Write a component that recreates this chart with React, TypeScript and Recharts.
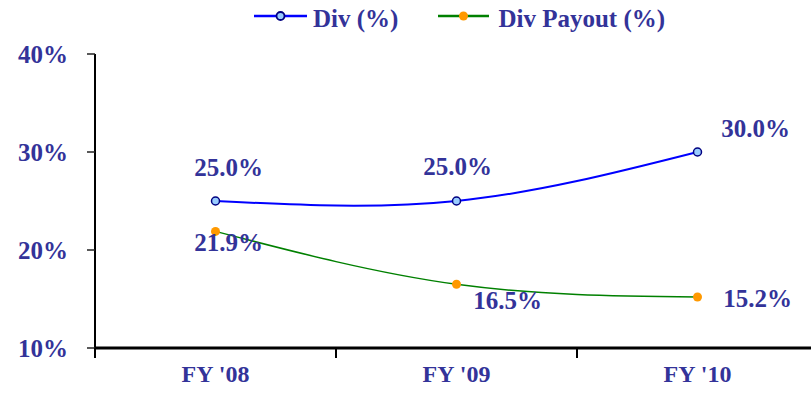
import { LineChart, Line, XAxis, YAxis, Legend, LabelList } from 'recharts';

const categories = ["FY '08", "FY '09", "FY '10"];
const divValues = [25.0, 25.0, 30.0];
const payoutValues = [21.9, 16.5, 15.2];
const yTicks = [10, 20, 30, 40];
// band edges get a tick mark, band centres get the category name
const xTicks = [0, 0.5, 1, 1.5, 2, 2.5, 3];

const data = categories.map((name, i) => ({ name, pos: i + 0.5, div: divValues[i], payout: payoutValues[i] }));

const FONT = "'Liberation Serif', 'Times New Roman', serif";
const TEXT = '#333399';

// label nudges relative to each point (dx, dy)
const divLabelShift = [
  [13, -34],
  [1, -35],
  [58, -24],
];
const payoutLabelShift = [
  [13, 11],
  [51, 16],
  [60, 1],
];

function makeLabel(shift: number[][]) {
  return (props: any) => {
    const { x, y, value, index } = props;
    const [dx, dy] = shift[index] || [0, 0];
    return (
      <text
        x={x + dx}
        y={y + dy}
        textAnchor="middle"
        dominantBaseline="central"
        fill={TEXT}
        fontFamily={FONT}
        fontWeight="bold"
        fontSize={25}
      >
        {`${Number(value).toFixed(1)}%`}
      </text>
    );
  };
}

function CategoryTick(props: any) {
  const { x, y, payload } = props;
  const v = payload.value;
  if (Number.isInteger(v)) {
    return <line x1={x} y1={y} x2={x} y2={y + 10} stroke="#000" strokeWidth={2} />;
  }
  return (
    <text
      x={x}
      y={y + 17}
      dy="0.71em"
      textAnchor="middle"
      fill={TEXT}
      fontFamily={FONT}
      fontWeight="bold"
      fontSize={24}
    >
      {categories[Math.floor(v)]}
    </text>
  );
}

function LegendIcon({ color, fill, stroke, width }: { color: string; fill: string; stroke?: string; width: number }) {
  return (
    <svg width={width} height={12} style={{ display: 'block', marginTop: 10 }}>
      <line x1={0} y1={6} x2={width} y2={6} stroke={color} strokeWidth={2.5} />
      <circle cx={width / 2} cy={6} r={stroke ? 4 : 4.5} fill={fill} stroke={stroke || 'none'} strokeWidth={1.8} />
    </svg>
  );
}

function LegendText({ label }: { label: string }) {
  return (
    <span
      style={{
        display: 'block',
        marginTop: 4,
        whiteSpace: 'nowrap',
        fontFamily: FONT,
        fontWeight: 'bold',
        fontSize: 25,
        lineHeight: '30px',
        color: TEXT,
      }}
    >
      {label}
    </span>
  );
}

function renderLegend() {
  return (
    <div style={{ display: 'flex', alignItems: 'flex-start', paddingLeft: 254 }}>
      <LegendIcon color="#0000FF" fill="#99CCFF" stroke="#000080" width={53} />
      <div style={{ width: 6 }} />
      <LegendText label="Div (%)" />
      <div style={{ width: 40 }} />
      <LegendIcon color="#008000" fill="#FF9900" width={51} />
      <div style={{ width: 9 }} />
      <LegendText label="Div Payout (%)" />
    </div>
  );
}

export default function App() {
  return (
    <div style={{ position: 'absolute', left: 0, top: 0, width: 811, height: 417, overflow: 'hidden', background: '#fff' }}>
      <LineChart width={830} height={417} data={data} margin={{ top: 54, right: 12, bottom: 0, left: 0 }}>
        <Legend
          verticalAlign="middle"
          align="center"
          content={renderLegend}
          wrapperStyle={{ top: 0, left: 0, width: 830 }}
        />
        <XAxis
          dataKey="pos"
          type="number"
          domain={[0, 3]}
          allowDataOverflow
          ticks={xTicks}
          interval={0}
          tickLine={false}
          tickSize={0}
          tickMargin={0}
          height={69}
          axisLine={{ stroke: '#000', strokeWidth: 3 }}
          tick={<CategoryTick />}
        />
        <YAxis
          domain={[10, 40]}
          ticks={yTicks}
          tickFormatter={(v) => `${v}%`}
          width={95}
          tickSize={8}
          tickMargin={19}
          axisLine={{ stroke: '#000', strokeWidth: 2 }}
          tickLine={{ stroke: '#222', strokeWidth: 1.5 }}
          tick={{ fill: TEXT, fontFamily: FONT, fontWeight: 'bold', fontSize: 25 }}
        />
        <Line
          type="natural"
          dataKey="div"
          stroke="#0000FF"
          strokeWidth={2}
          dot={{ r: 4, fill: '#99CCFF', stroke: '#000080', strokeWidth: 1.5 }}
          activeDot={false}
          isAnimationActive={false}
        >
          <LabelList dataKey="div" content={makeLabel(divLabelShift)} />
        </Line>
        <Line
          type="natural"
          dataKey="payout"
          stroke="#008000"
          strokeWidth={1.5}
          dot={{ r: 4.5, fill: '#FF9900', stroke: 'none' }}
          activeDot={false}
          isAnimationActive={false}
        >
          <LabelList dataKey="payout" content={makeLabel(payoutLabelShift)} />
        </Line>
      </LineChart>
    </div>
  );
}
